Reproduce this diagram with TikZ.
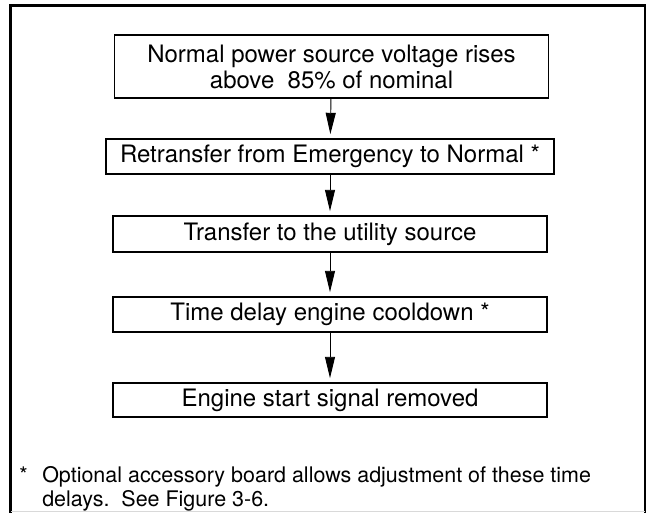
\documentclass[tikz,border=0pt]{standalone}
\usepackage{fontspec}
\setmainfont{TeX Gyre Heros}
\usetikzlibrary{arrows.meta}

\begin{document}
\begin{tikzpicture}[x=0.75pt,y=-0.75pt,>={Triangle[length=16pt,width=7.5pt]},
  font=\fontsize{18}{19.5}\selectfont,
  stepbox/.style={draw,line width=1.3pt,minimum width=325.5pt,inner sep=0pt,align=center},
  flow/.style={->,line width=0.7pt,shorten >=3pt}]
\useasboundingbox (0,0) rectangle (650,512);
\clip (0,0) rectangle (650,512);
% outer frame
\draw[line width=1.9pt] (10.5,520) -- (10.5,5.5) -- (645,5.5) -- (645,520);
\draw[gray!30] (10.5,511.5) -- (645,511.5);
% flow boxes
\node[stepbox,minimum height=47.25pt] (rises) at (331.5,66.5) {Normal power source voltage rises\\above\ \ 85\% of nominal};
\node[stepbox,minimum width=336pt,minimum height=26.25pt] (retrans) at (330,156.5) {Retransfer from Emergency to Normal *};
\node[stepbox,minimum height=27pt] (utility) at (330,234) {Transfer to the utility source};
\node[stepbox,minimum height=26.25pt] (cool) at (330,314.5) {Time delay engine cooldown *};
\node[stepbox,minimum height=25.5pt] (nostart) at (330,400) {Engine start signal removed};
\draw[flow] (rises) -- (retrans);
\draw[flow] (retrans) -- (utility);
\draw[flow] (utility) -- (cool);
\draw[flow] (cool) -- (nostart);
% footnote
\node[anchor=base west,inner sep=0pt,font=\fontsize{16.1}{18}\selectfont] (star) at (19,482) {*};
\node[anchor=base west,inner sep=0pt,align=left,font=\fontsize{16.1}{18}\selectfont] (note) at (42,506) {Optional accessory board allows adjustment of these time\\delays.\ \ See Figure 3-6.};
\end{tikzpicture}
\end{document}
